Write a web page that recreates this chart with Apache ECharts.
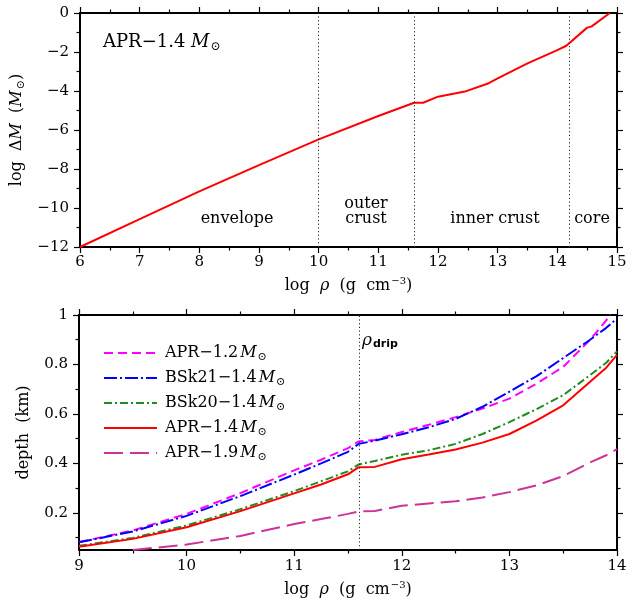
<!DOCTYPE html>
<html><head><meta charset="utf-8">
<script src="https://cdn.jsdelivr.net/npm/echarts@6/dist/echarts.min.js"></script>
<style>html,body{margin:0;padding:0;background:#fff}#c{width:636px;height:603px}</style>
</head><body><div id="c"></div>
<script>
// ---- Top panel: log ΔM vs log ρ (APR-1.4 Msun) ----
const topRho   = [6, 7, 8, 9, 10, 11, 11.6, 11.75, 12, 12.45, 12.85, 13, 13.5, 14, 14.15, 14.5, 14.57, 14.88];
const topLogDM = [-12, -10.57, -9.15, -7.8, -6.48, -5.28, -4.6, -4.6, -4.29, -4.03, -3.6, -3.35, -2.58, -1.9, -1.68, -0.75, -0.7, 0];
const regionBounds = [10, 11.6, 14.2];

// ---- Bottom panel: depth (km) vs log ρ ----
const botRho     = [9, 9.5, 10, 10.5, 11, 11.25, 11.5, 11.6, 11.75, 12, 12.25, 12.5, 12.75, 13, 13.25, 13.5, 13.75, 13.9, 14];
const depthAPR12 = [0.082, 0.129, 0.196, 0.28, 0.372, 0.415, 0.462, 0.489, 0.495, 0.527, 0.556, 0.587, 0.622, 0.662, 0.722, 0.79, 0.9, 0.978, 1.06];
const depthBSk21 = [0.081, 0.125, 0.188, 0.268, 0.355, 0.4, 0.447, 0.479, 0.492, 0.518, 0.546, 0.58, 0.629, 0.69, 0.752, 0.826, 0.9, 0.948, 0.986];
const depthBSk20 = [0.067, 0.099, 0.149, 0.215, 0.288, 0.328, 0.368, 0.396, 0.41, 0.435, 0.453, 0.479, 0.519, 0.567, 0.619, 0.676, 0.757, 0.807, 0.853];
const depthAPR14 = [0.063, 0.095, 0.142, 0.207, 0.279, 0.315, 0.356, 0.385, 0.386, 0.417, 0.436, 0.456, 0.484, 0.519, 0.573, 0.635, 0.73, 0.787, 0.839];
const depthAPR19 = [null, 0.05, 0.072, 0.107, 0.155, 0.175, 0.196, 0.206, 0.208, 0.229, 0.238, 0.247, 0.262, 0.284, 0.311, 0.349, 0.404, 0.433, 0.458];
const dripRho = 11.6;
const depthMajor = [0.2, 0.4, 0.6, 0.8, 1];
const depthMinor = [0.1, 0.3, 0.5, 0.7, 0.9];

const seriesNames = ['APR-1.2', 'BSk21-1.4', 'BSk20-1.4', 'APR-1.4', 'APR-1.9'];
const seriesData  = [depthAPR12, depthBSk21, depthBSk20, depthAPR14, depthAPR19];
const seriesColors = ['#ff00ff', '#0000ff', '#228b22', '#ff0000', '#cc3399'];
const seriesDash = [[9, 5], [13, 3, 2, 3], [8, 3, 2, 3], 'solid', [19, 7]];

const FONT = 'DejaVu Serif';
const zip = (xs, ys) => xs.map((x, i) => [x, ys[i]]);
const minus = v => (v < 0 ? '\u2212' + (-v) : String(v));
const blk = { color: '#000', width: 1.2 };

const axisNameStyle = {
  color: '#000', fontFamily: FONT, fontSize: 16,
  rich: {
    t: { fontFamily: FONT, fontSize: 16, color: '#000' },
    g: { fontFamily: FONT, fontSize: 16, fontStyle: 'italic', color: '#000' },
    m: { fontFamily: FONT, fontSize: 16, fontStyle: 'italic', color: '#000' },
    p: { fontFamily: FONT, fontSize: 10, color: '#000', padding: [0, 0, 9, 1] },
    s: { fontFamily: FONT, fontSize: 11, color: '#000', padding: [8, 0, 0, 1] }
  }
};
const rhoName = '{t|log  }{g|\u03c1}{t|  (g  cm}{p|\u22123}{t|)}';

// frame axis with major ticks (and optional minor ticks)
function mainAxis(grid, range, pos, labelCfg, name, nameGap, minor, tickValues) {
  const ax = {
    type: 'value', gridIndex: grid, min: range[0], max: range[1], position: pos,
    splitLine: { show: false }, minorSplitLine: { show: false },
    axisLine: { show: true, onZero: false, lineStyle: { color: '#000', width: 2 } },
    axisTick: { show: true, inside: false, length: 6, lineStyle: blk },
    minorTick: minor ? { show: true, splitNumber: 2, length: 3.5, lineStyle: blk } : { show: false },
    axisLabel: labelCfg ? Object.assign({ color: '#000', fontFamily: FONT, fontSize: 15 }, labelCfg) : { show: false }
  };
  if (range[2]) ax.interval = range[2];
  if (tickValues) ax.axisTick.customValues = tickValues;
  if (name) { ax.name = name; ax.nameLocation = 'middle'; ax.nameGap = nameGap; ax.nameTextStyle = axisNameStyle; }
  return ax;
}
// extra axis carrying only short ticks at given values
function minorAxis(grid, range, pos, values) {
  return {
    type: 'value', gridIndex: grid, min: range[0], max: range[1], position: pos,
    splitLine: { show: false },
    axisLine: { show: false, onZero: false },
    axisTick: { show: true, inside: false, length: 3.5, lineStyle: blk, customValues: values },
    axisLabel: { show: false }
  };
}

const topX = [6, 15, 1], topY = [-12, 0, 2], botX = [9, 14, 1], botY = [0.05, 1];

const option = {
  animation: false,
  grid: [{ left: 80, right: 19, top: 13, height: 234 }, { left: 79, right: 19, top: 315, height: 235 }],
  xAxis: [
    mainAxis(0, topX, 'bottom', { margin: 8 }, rhoName, 29, true),
    mainAxis(0, topX, 'top', null, null, 0, true),
    mainAxis(1, botX, 'bottom', { margin: 9 }, rhoName, 30, true),
    mainAxis(1, botX, 'top', null, null, 0, true)
  ],
  yAxis: [
    mainAxis(0, topY, 'left', { margin: 11, formatter: minus }, '{t|log  \u0394}{m|M}{t|  (}{m|M}{s|\u2299}{t|)}', 42, true),
    mainAxis(0, topY, 'right', null, null, 0, true),
    mainAxis(1, botY, 'left', { margin: 11, customValues: depthMajor, formatter: v => String(Math.round(v * 10) / 10) }, '{t|depth  (km)}', 47, false, depthMajor),
    mainAxis(1, botY, 'right', null, null, 0, false, depthMajor),
    minorAxis(1, botY, 'left', depthMinor),
    minorAxis(1, botY, 'right', depthMinor)
  ],
  legend: {
    orient: 'vertical', left: 98, top: 338,
    itemWidth: 53, itemHeight: 14, itemGap: 5,
    data: seriesNames,
    itemStyle: { opacity: 0 },
    formatter: name => {
      const i = name.lastIndexOf('-');
      return '{n|' + name.slice(0, i) + '\u2212' + name.slice(i + 1) + '}{m|M}{s|\u2299}';
    },
    textStyle: {
      color: '#000', fontFamily: FONT, fontSize: 16, lineHeight: 20,
      rich: {
        n: { fontFamily: FONT, fontSize: 16, color: '#000', padding: [0, 2, 0, 3] },
        m: { fontFamily: FONT, fontSize: 16, fontStyle: 'italic', color: '#000' },
        s: { fontFamily: FONT, fontSize: 11, color: '#000', padding: [8, 0, 0, 1] }
      }
    }
  },
  graphic: [
    {
      type: 'text', left: 103, top: 33,
      style: {
        text: '{n|APR\u22121.4 }{m|M}{s|\u2299}', fill: '#000',
        rich: {
          n: { fontFamily: FONT, fontSize: 18, fill: '#000' },
          m: { fontFamily: FONT, fontSize: 18, fontStyle: 'italic', fill: '#000' },
          s: { fontFamily: FONT, fontSize: 12, fill: '#000', padding: [9, 0, 0, 1] }
        }
      }
    },
    { type: 'text', x: 237, y: 219, style: { text: 'envelope', fill: '#000', font: '16px "DejaVu Serif"', align: 'center', verticalAlign: 'middle' } },
    { type: 'text', x: 366, y: 211, style: { text: 'outer\ncrust', fill: '#000', font: '16px "DejaVu Serif"', align: 'center', verticalAlign: 'middle', lineHeight: 15 } },
    { type: 'text', x: 495, y: 219, style: { text: 'inner crust', fill: '#000', font: '16px "DejaVu Serif"', align: 'center', verticalAlign: 'middle' } },
    { type: 'text', x: 592, y: 219, style: { text: 'core', fill: '#000', font: '16px "DejaVu Serif"', align: 'center', verticalAlign: 'middle' } },
    {
      type: 'text', left: 362, top: 332,
      style: {
        text: '{r|\u03c1}{d|drip}', fill: '#000',
        rich: {
          r: { fontFamily: FONT, fontSize: 17, fontStyle: 'italic', fill: '#000' },
          d: { fontFamily: 'DejaVu Sans', fontSize: 11, fontWeight: 'bold', fill: '#000', padding: [7, 0, 0, 1] }
        }
      }
    }
  ],
  series: [
    {
      type: 'line', name: 'top', xAxisIndex: 0, yAxisIndex: 0,
      data: zip(topRho, topLogDM), showSymbol: false, symbol: 'none',
      lineStyle: { color: '#ff0000', width: 2 }, itemStyle: { color: '#ff0000' },
      markLine: {
        silent: true, symbol: ['none', 'none'], label: { show: false },
        lineStyle: { type: [1.2, 2.5], color: '#222', width: 1 },
        data: regionBounds.map(v => ({ xAxis: v }))
      }
    },
    ...seriesNames.map((n, i) => ({
      type: 'line', name: n, xAxisIndex: 2, yAxisIndex: 2,
      data: zip(botRho, seriesData[i]), showSymbol: false, symbol: 'none', connectNulls: false,
      lineStyle: { color: seriesColors[i], width: 2, type: seriesDash[i] },
      itemStyle: { color: seriesColors[i] },
      markLine: i === 0 ? {
        silent: true, symbol: ['none', 'none'], label: { show: false },
        lineStyle: { type: [1.2, 2.5], color: '#222', width: 1 },
        data: [{ xAxis: dripRho }]
      } : undefined
    }))
  ]
};

const chart = echarts.init(document.getElementById('c'));
chart.setOption(option);
</script>
</body></html>
